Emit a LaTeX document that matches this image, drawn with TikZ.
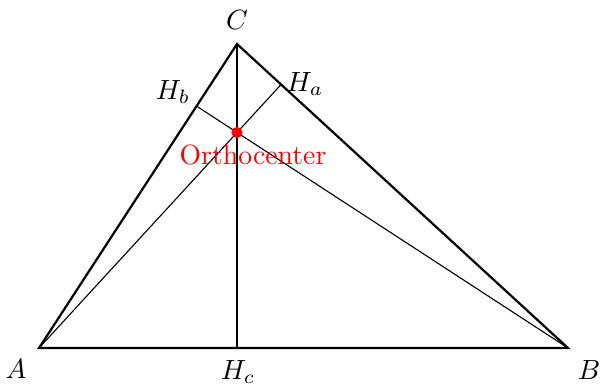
\documentclass[tikz,border=0pt]{standalone}
\usetikzlibrary{calc}
\begin{document}
\begin{tikzpicture}[x=0.36pt,y=-0.36pt,
  side/.style={line width=0.8pt},
  alt/.style={line width=0.4pt},
  lbl/.style={inner sep=0pt}]
\useasboundingbox (0,0) rectangle (600,383);
\coordinate (A) at (39,348);
\coordinate (B) at (568,348);
\coordinate (C) at (237,44);
\coordinate (Ha) at ($(B)!(A)!(C)$);
\coordinate (Hb) at ($(A)!(B)!(C)$);
\coordinate (Hc) at ($(A)!(C)!(B)$);
\coordinate (O) at (intersection of A--Ha and C--Hc);
\draw[alt] (A) -- (Ha);
\draw[alt] (B) -- (Hb);
\draw[alt] (C) -- (Hc);
\draw[side] (A) -- (B) -- (C) -- cycle;
\fill[red] (O) circle (2pt);
\node[lbl] (lA) at (16,369) {$A$};
\node[lbl] (lB) at (589,370) {$B$};
\node[lbl] (lC) at (237,20) {$C$};
\node[lbl] (lHa) at (305,84) {$H_a$};
\node[lbl] (lHb) at (173,92) {$H_b$};
\node[lbl] (lHc) at (238,372) {$H_c$};
\node[lbl,red] (lO) at (253,155) {Orthocenter};
\end{tikzpicture}
\end{document}
